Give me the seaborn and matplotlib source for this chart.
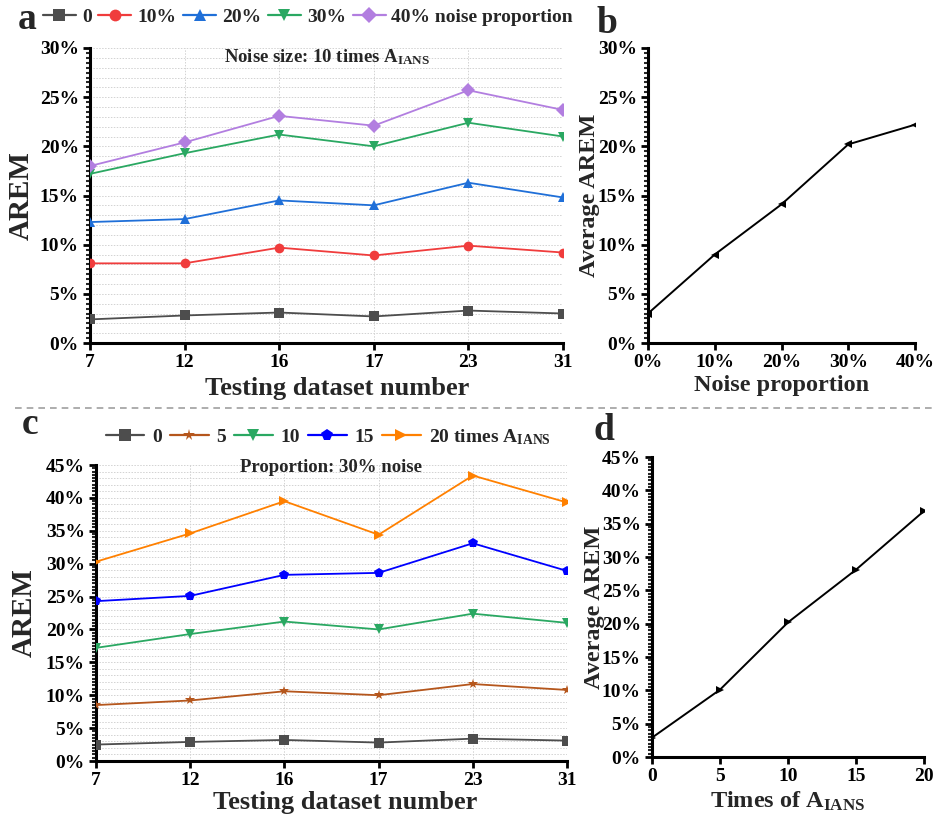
import numpy as np
import pandas as pd
import matplotlib
matplotlib.use("Agg")
import matplotlib.pyplot as plt
from matplotlib.ticker import MultipleLocator, FuncFormatter
from matplotlib.lines import Line2D
import seaborn as sns

# ---------------- data ----------------
datasets = ["7", "12", "16", "17", "23", "31"]

# panel a: noise size 10 times A_IANS, different noise proportions (AREM, %)
a_labels = ["0", "10%", "20%", "30%", "40% noise proportion"]
a_p0 = [2.4, 2.8, 3.1, 2.7, 3.3, 3.0]
a_p10 = [8.1, 8.1, 9.7, 8.9, 9.9, 9.2]
a_p20 = [12.3, 12.6, 14.5, 14.0, 16.3, 14.8]
a_p30 = [17.2, 19.3, 21.2, 20.0, 22.4, 21.0]
a_p40 = [18.0, 20.4, 23.1, 22.1, 25.7, 23.7]

# panel b: average AREM vs noise proportion
b_x = [0, 10, 20, 30, 40]
b_y = [3.0, 9.0, 14.1, 20.2, 22.2]

# panel c: proportion 30% noise, different noise sizes
c_labels = ["0", "5", "10", "15", "20 times A$_{\\rm IANS}$"]
c_t0 = [2.5, 2.9, 3.2, 2.8, 3.4, 3.1]
c_t5 = [8.5, 9.2, 10.6, 10.0, 11.7, 10.8]
c_t10 = [17.2, 19.3, 21.2, 20.0, 22.4, 21.0]
c_t15 = [24.3, 25.1, 28.3, 28.6, 33.1, 28.9]
c_t20 = [30.3, 34.6, 39.5, 34.4, 43.4, 39.3]

# panel d: average AREM vs times of A_IANS
d_x = [0, 5, 10, 15, 20]
d_y = [2.9, 10.1, 20.2, 28.1, 36.9]

# ---------------- style ----------------
sns.set_theme(style="white")
plt.rcParams["font.family"] = ["Liberation Serif", "DejaVu Serif"]
plt.rcParams["font.weight"] = "bold"
plt.rcParams["axes.labelweight"] = "bold"
plt.rcParams["mathtext.fontset"] = "custom"
plt.rcParams["mathtext.rm"] = "Liberation Serif:bold"
plt.rcParams["mathtext.bf"] = "Liberation Serif:bold"
plt.rcParams["mathtext.it"] = "Liberation Serif:bold:italic"

a_colors = ["#4d4d4d", "#f03c3c", "#1f6fd8", "#2aa862", "#b27ee0"]
a_markers = ["s", "o", "^", "v", "D"]
c_colors = ["#4d4d4d", "#b5561c", "#2aa862", "#0000ff", "#ff8000"]
c_markers = ["s", "*", "v", "p", ">"]

W, H = 935, 819
fig = plt.figure(figsize=(W / 100, H / 100), dpi=100)


def box(l, t, r, b):
    return [l / W, 1 - b / H, (r - l) / W, (b - t) / H]


ax_a = fig.add_axes(box(90, 48, 563, 343))
ax_b = fig.add_axes(box(648, 48, 915, 343))
ax_c = fig.add_axes(box(96, 465, 567, 761))
ax_d = fig.add_axes(box(652, 457, 924, 757))

pct = FuncFormatter(lambda v, p: f"{v:.0f}%")
TICK_FS = 14


def style_axis(ax):
    for s in ["top", "right"]:
        ax.spines[s].set_visible(False)
    for s in ["left", "bottom"]:
        ax.spines[s].set_linewidth(2.2)
        ax.spines[s].set_color("black")
    ax.tick_params(axis="both", which="major", direction="out", length=5, width=2,
                   labelsize=TICK_FS, colors="black", bottom=True, left=True, pad=3)
    ax.tick_params(axis="y", which="minor", direction="out", length=3, width=1.5, left=True)
    for lab in ax.get_xticklabels() + ax.get_yticklabels():
        lab.set_fontweight("bold")


def multi_panel(ax, labels, series, colors, markers, ymax, title, title_y, xl_coords, yl_coords):
    rows = []
    for lab, vals in zip(labels, series):
        for i, v in enumerate(vals):
            rows.append({"pos": i, "val": v, "series": lab})
    df = pd.DataFrame(rows)
    sns.lineplot(data=df, x="pos", y="val", hue="series", style="series",
                 hue_order=labels, style_order=labels,
                 palette=dict(zip(labels, colors)),
                 markers=dict(zip(labels, markers)), dashes=False,
                 markersize=7, linewidth=1.3, markeredgewidth=0,
                 legend=False, ax=ax, zorder=3)
    ax.set_xlim(0, len(datasets) - 1)
    ax.set_ylim(0, ymax)
    ax.set_xticks(range(len(datasets)))
    ax.set_xticklabels(datasets)
    ax.yaxis.set_major_locator(MultipleLocator(5))
    ax.yaxis.set_minor_locator(MultipleLocator(0.5))
    ax.yaxis.set_major_formatter(pct)
    ax.grid(False)
    for y in np.arange(1, ymax + 0.1, 1):
        ax.axhline(y, color="#d2d2d2", lw=0.7, ls=(0, (1.5, 1.5)), zorder=0)
    for x in range(1, len(datasets)):
        ax.axvline(x, color="#d2d2d2", lw=0.7, ls=(0, (1.5, 1.5)), zorder=0)
    ax.set_xlabel("Testing dataset number", fontsize=19, fontweight="bold", va="top")
    ax.xaxis.set_label_coords(*xl_coords)
    ax.set_ylabel("AREM", fontsize=21, fontweight="bold", va="center")
    ax.yaxis.set_label_coords(*yl_coords)
    ax.text(0.5, title_y, title, transform=ax.transAxes, ha="center", va="center",
            fontsize=13.5, fontweight="bold", zorder=5)
    style_axis(ax)
    handles = [Line2D([0], [0], color=c, marker=m, markersize=8.5, lw=1.6, markeredgewidth=0)
               for c, m in zip(colors, markers)]
    return handles


h_a = multi_panel(ax_a, a_labels, [a_p0, a_p10, a_p20, a_p30, a_p40],
                  a_colors, a_markers, 30, "Noise size: 10 times A$_{\\rm IANS}$", 0.968,
                  (0.522, -0.115), (-0.146, 0.5))
h_c = multi_panel(ax_c, c_labels, [c_t0, c_t5, c_t10, c_t15, c_t20],
                  c_colors, c_markers, 45, "Proportion: 30% noise", 0.99,
                  (0.529, -0.103), (-0.153, 0.5))

fig.legend(h_a, a_labels, loc="center", bbox_to_anchor=(308 / W, 1 - 17 / H), ncol=5,
           frameon=False, handlelength=1.7, handletextpad=0.3,
           columnspacing=0.35, prop={"weight": "bold", "size": 14})
fig.legend(h_c, c_labels, loc="center", bbox_to_anchor=(328 / W, 1 - 437 / H), ncol=5,
           frameon=False, handlelength=2.0, handletextpad=0.4,
           columnspacing=0.4, prop={"weight": "bold", "size": 14})


def single_panel(ax, xs, ys, marker, xmax, xstep, ymax, xlabel, xfmt, yl_x):
    df = pd.DataFrame({"x": xs, "y": ys})
    sns.lineplot(data=df, x="x", y="y", color="black", marker=marker, markersize=6,
                 markeredgewidth=0, linewidth=1.4, ax=ax)
    ax.set_xlim(0, xmax)
    ax.set_ylim(0, ymax)
    ax.xaxis.set_major_locator(MultipleLocator(xstep))
    if xfmt:
        ax.xaxis.set_major_formatter(pct)
    ax.yaxis.set_major_locator(MultipleLocator(5))
    ax.yaxis.set_minor_locator(MultipleLocator(0.5))
    ax.yaxis.set_major_formatter(pct)
    ax.grid(False)
    ax.set_xlabel(xlabel, fontsize=17.5, fontweight="bold", labelpad=3)
    ax.set_ylabel("Average AREM", fontsize=17.5, fontweight="bold", va="center")
    ax.yaxis.set_label_coords(yl_x, 0.5)
    style_axis(ax)


single_panel(ax_b, b_x, b_y, "<", 40, 10, 30, "Noise proportion", True, -0.22)
single_panel(ax_d, d_x, d_y, ">", 20, 5, 45, "Times of A$_{\\rm IANS}$", False, -0.213)

# panel letters
for ch, (x, y) in zip("abcd", [(27, 29), (607, 33), (30, 434), (604, 440)]):
    fig.text(x / W, 1 - y / H, ch, fontsize=27, fontweight="bold", ha="center", va="baseline")

# dashed separator
fig.add_artist(Line2D([15 / W, 1.0], [1 - 408 / H] * 2, transform=fig.transFigure,
                      color="#a0a0a0", lw=1.2, ls=(0, (4, 3))))

fig.savefig("out.png", dpi=100, facecolor="white")
